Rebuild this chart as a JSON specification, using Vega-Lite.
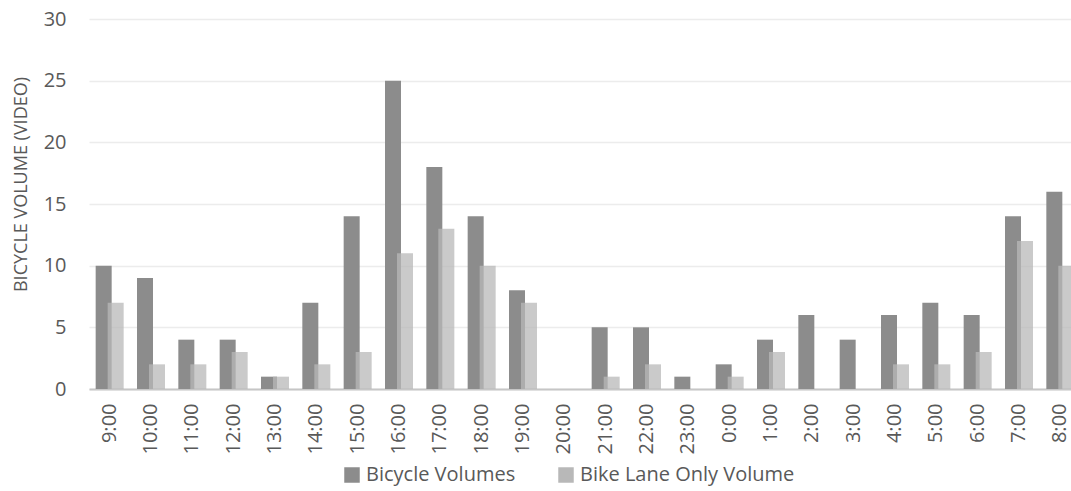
{
  "$schema": "https://vega.github.io/schema/vega-lite/v6.json",
  "width": 992,
  "height": 370,
  "padding": {"left": 12, "top": 9, "right": 0, "bottom": 5},
  "background": "white",
  "config": {
    "font": "Open Sans",
    "view": {"stroke": null},
    "axis": {"labelColor": "#595959", "titleColor": "#595959", "labelFontSize": 20, "titleFontSize": 18, "titleFontWeight": "normal"},
    "legend": {"labelColor": "#595959", "labelFontSize": 20, "labelLimit": 400}
  },
  "data": {
    "values": [
      {"hour": "9:00", "series": "Bicycle Volumes", "volume": 10},
      {"hour": "10:00", "series": "Bicycle Volumes", "volume": 9},
      {"hour": "11:00", "series": "Bicycle Volumes", "volume": 4},
      {"hour": "12:00", "series": "Bicycle Volumes", "volume": 4},
      {"hour": "13:00", "series": "Bicycle Volumes", "volume": 1},
      {"hour": "14:00", "series": "Bicycle Volumes", "volume": 7},
      {"hour": "15:00", "series": "Bicycle Volumes", "volume": 14},
      {"hour": "16:00", "series": "Bicycle Volumes", "volume": 25},
      {"hour": "17:00", "series": "Bicycle Volumes", "volume": 18},
      {"hour": "18:00", "series": "Bicycle Volumes", "volume": 14},
      {"hour": "19:00", "series": "Bicycle Volumes", "volume": 8},
      {"hour": "20:00", "series": "Bicycle Volumes", "volume": 0},
      {"hour": "21:00", "series": "Bicycle Volumes", "volume": 5},
      {"hour": "22:00", "series": "Bicycle Volumes", "volume": 5},
      {"hour": "23:00", "series": "Bicycle Volumes", "volume": 1},
      {"hour": "0:00", "series": "Bicycle Volumes", "volume": 2},
      {"hour": "1:00", "series": "Bicycle Volumes", "volume": 4},
      {"hour": "2:00", "series": "Bicycle Volumes", "volume": 6},
      {"hour": "3:00", "series": "Bicycle Volumes", "volume": 4},
      {"hour": "4:00", "series": "Bicycle Volumes", "volume": 6},
      {"hour": "5:00", "series": "Bicycle Volumes", "volume": 7},
      {"hour": "6:00", "series": "Bicycle Volumes", "volume": 6},
      {"hour": "7:00", "series": "Bicycle Volumes", "volume": 14},
      {"hour": "8:00", "series": "Bicycle Volumes", "volume": 16},
      {"hour": "9:00", "series": "Bike Lane Only Volume", "volume": 7},
      {"hour": "10:00", "series": "Bike Lane Only Volume", "volume": 2},
      {"hour": "11:00", "series": "Bike Lane Only Volume", "volume": 2},
      {"hour": "12:00", "series": "Bike Lane Only Volume", "volume": 3},
      {"hour": "13:00", "series": "Bike Lane Only Volume", "volume": 1},
      {"hour": "14:00", "series": "Bike Lane Only Volume", "volume": 2},
      {"hour": "15:00", "series": "Bike Lane Only Volume", "volume": 3},
      {"hour": "16:00", "series": "Bike Lane Only Volume", "volume": 11},
      {"hour": "17:00", "series": "Bike Lane Only Volume", "volume": 13},
      {"hour": "18:00", "series": "Bike Lane Only Volume", "volume": 10},
      {"hour": "19:00", "series": "Bike Lane Only Volume", "volume": 7},
      {"hour": "20:00", "series": "Bike Lane Only Volume", "volume": 0},
      {"hour": "21:00", "series": "Bike Lane Only Volume", "volume": 1},
      {"hour": "22:00", "series": "Bike Lane Only Volume", "volume": 2},
      {"hour": "23:00", "series": "Bike Lane Only Volume", "volume": 0},
      {"hour": "0:00", "series": "Bike Lane Only Volume", "volume": 1},
      {"hour": "1:00", "series": "Bike Lane Only Volume", "volume": 3},
      {"hour": "2:00", "series": "Bike Lane Only Volume", "volume": 0},
      {"hour": "3:00", "series": "Bike Lane Only Volume", "volume": 0},
      {"hour": "4:00", "series": "Bike Lane Only Volume", "volume": 2},
      {"hour": "5:00", "series": "Bike Lane Only Volume", "volume": 2},
      {"hour": "6:00", "series": "Bike Lane Only Volume", "volume": 3},
      {"hour": "7:00", "series": "Bike Lane Only Volume", "volume": 12},
      {"hour": "8:00", "series": "Bike Lane Only Volume", "volume": 10}
    ]
  },
  "encoding": {
    "x": {
      "field": "hour",
      "type": "nominal",
      "sort": null,
      "scale": {"paddingInner": 0, "paddingOuter": 0},
      "axis": {"title": null, "labelAngle": -90, "ticks": false, "labelPadding": 14, "domainColor": "#c6c6c6", "domainWidth": 2, "grid": false}
    },
    "y": {
      "field": "volume",
      "type": "quantitative",
      "scale": {"domain": [0, 30], "nice": false},
      "axis": {"title": "BICYCLE VOLUME (VIDEO)", "values": [0, 5, 10, 15, 20, 25, 30], "ticks": false, "domain": false, "labelPadding": 23, "titlePadding": 12.5, "titleY": 165, "gridColor": "#ececec", "gridWidth": 1.5}
    },
    "color": {
      "field": "series",
      "type": "nominal",
      "scale": {"domain": ["Bicycle Volumes", "Bike Lane Only Volume"], "range": ["#8c8c8c", "#b8b8b8"]},
      "legend": {"title": null, "orient": "none", "legendX": 253, "legendY": 446, "direction": "horizontal", "symbolType": "square", "symbolSize": 240, "symbolStrokeWidth": 0, "symbolOpacity": 1, "columnPadding": 40, "labelOffset": 4}
    }
  },
  "layer": [
    {
      "transform": [{"filter": "datum.series === 'Bicycle Volumes'"}],
      "mark": {"type": "bar", "width": 16, "xOffset": -6}
    },
    {
      "transform": [{"filter": "datum.series === 'Bike Lane Only Volume'"}],
      "mark": {"type": "bar", "width": 16, "xOffset": 6, "opacity": 0.75}
    }
  ]
}
